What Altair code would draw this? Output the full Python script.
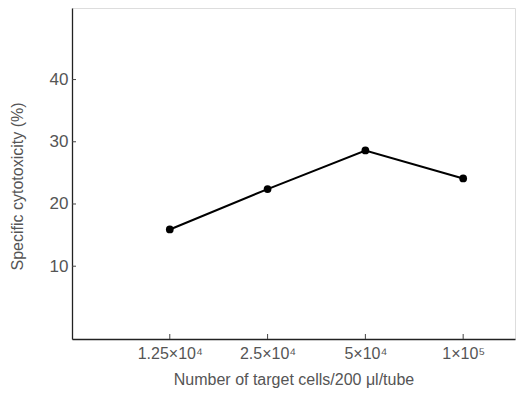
import altair as alt
import pandas as pd

categories = ["1.25×10⁴", "2.5×10⁴", "5×10⁴", "1×10⁵"]
values = [15.9, 22.4, 28.6, 24.1]
y_ticks = [10, 20, 30, 40]

df = pd.DataFrame({"idx": list(range(len(categories))), "cat": categories, "val": values})
ticks_df = pd.DataFrame({"t": y_ticks})

W, H = 443, 331
FONT = "Liberation Sans"
label_expr = "[" + ",".join(f"'{c}'" for c in categories) + "][datum.value]"

xscale = alt.Scale(domain=[-1.0, 3.53], nice=False, zero=False)
yscale = alt.Scale(domain=[-1.7, 51.5], nice=False, zero=False)

x_enc = alt.X("idx:Q", scale=xscale,
              axis=alt.Axis(values=list(range(len(categories))), labelExpr=label_expr,
                            title="Number of target cells/200 μl/tube", grid=False, ticks=False,
                            labelPadding=6, titlePadding=10, labelFontSize=16, titleFontSize=16,
                            labelFont=FONT, titleFont=FONT, labelColor="#555", titleColor="#555",
                            titleFontWeight="normal", domainColor="#222", domainWidth=1.3))
y_enc = alt.Y("val:Q", scale=yscale,
              axis=alt.Axis(values=y_ticks, title="Specific cytotoxicity (%)", grid=False, ticks=False,
                            labelPadding=4, labelFontSize=17, titleFontSize=16,
                            labelFont=FONT, titleFont=FONT, labelColor="#555", titleColor="#555",
                            titleFontWeight="normal", titleX=-47, titleY=178,
                            domainColor="#222", domainWidth=1.3))

line = alt.Chart(df).mark_line(color="black", strokeWidth=2).encode(x=x_enc, y=y_enc)
pts = alt.Chart(df).mark_point(filled=True, color="black", size=60, opacity=1).encode(
    x=alt.X("idx:Q", scale=xscale), y=alt.Y("val:Q", scale=yscale))

ytick_marks = alt.Chart(ticks_df).mark_rule(color="#444", strokeWidth=1).encode(
    x=alt.value(0), x2=alt.value(4), y=alt.Y("t:Q", scale=yscale))
xtick_marks = alt.Chart(df).mark_rule(color="#444", strokeWidth=1).encode(
    x=alt.X("idx:Q", scale=xscale), y=alt.value(H), y2=alt.value(H - 5))

chart = alt.layer(line, pts, ytick_marks, xtick_marks).properties(
    width=W, height=H,
    autosize=alt.AutoSizeParams(type="none"),
    padding={"left": 72, "top": 8, "right": 5, "bottom": 58},
).configure_view(stroke=None).configure(background="white")

chart.save("out.html", embed_options={"renderer": "svg", "actions": False})
